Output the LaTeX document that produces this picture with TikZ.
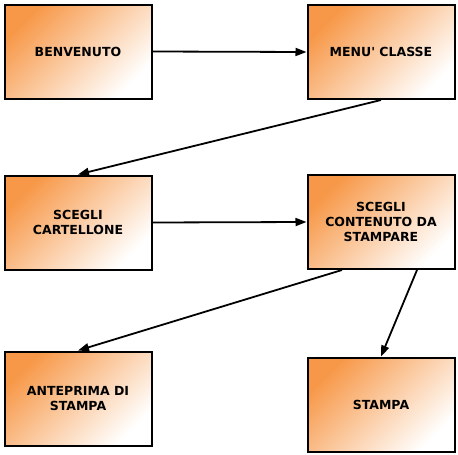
\documentclass[tikz,border=0pt]{standalone}
\usepackage{fontspec}
\setmainfont{DejaVu Sans}
\usepackage{tikz}
\usepackage{xcolor}
\usetikzlibrary{arrows.meta, positioning}

\definecolor{boxorange}{RGB}{247,152,72}

\begin{document}
\begin{tikzpicture}[x=1pt, y=1pt,
    box/.style={draw, line width=2pt, minimum width=147pt, minimum height=94pt,
        inner sep=0pt, align=center, shading=axis, top color=boxorange,
        bottom color=white, shading angle=45,
        font=\fontsize{12.5}{15}\selectfont\bfseries},
    link/.style={line width=1.8pt, -{Triangle[length=11pt, width=8pt]}}]
    \useasboundingbox (0,0) rectangle (458,-455);

    % the six screens
    \node[box] (welcome) at (78,-51.5) {BENVENUTO};
    \node[box] (menu) at (381,-52) {MENU\textquotesingle{} CLASSE};
    \node[box] (poster) at (78,-222.5) {SCEGLI\\CARTELLONE};
    \node[box] (content) at (381,-222) {SCEGLI\\CONTENUTO DA\\STAMPARE};
    \node[box] (preview) at (78,-398.5) {ANTEPRIMA DI\\STAMPA};
    \node[box] (print) at (381,-404.5) {STAMPA};

    % flow between them
    \draw[link] (welcome.east) -- (menu.west);
    \draw[link] (menu.south) -- (poster.north);
    \draw[link] (poster.east) -- (content.west);
    \draw[link] ([xshift=-39pt]content.south) -- (preview.north);
    \draw[link] ([xshift=36pt]content.south) -- (print.north);
\end{tikzpicture}
\end{document}
